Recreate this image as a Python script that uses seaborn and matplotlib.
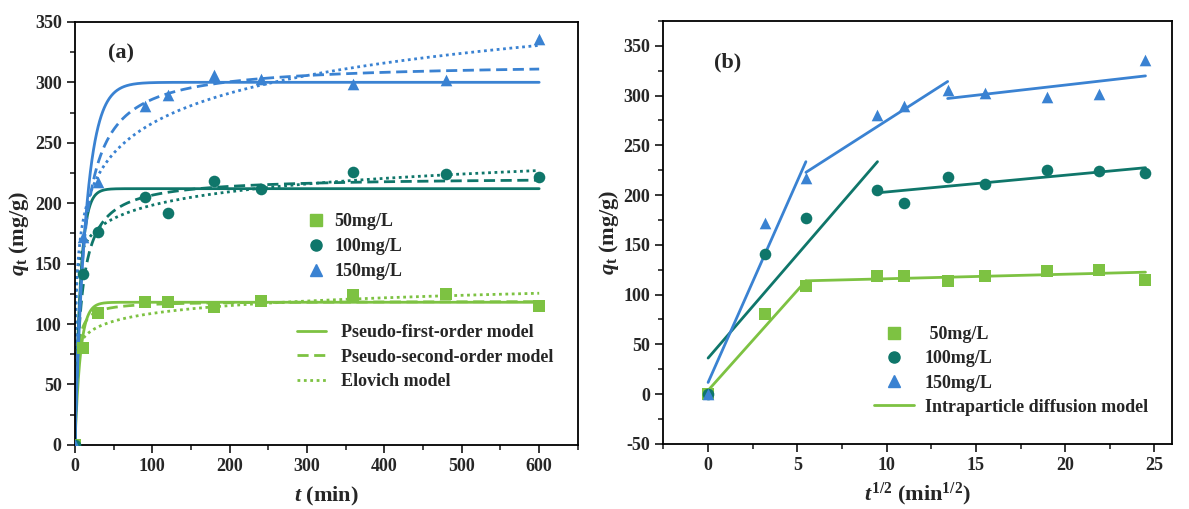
import numpy as np
import pandas as pd
import matplotlib
matplotlib.use("Agg")
import matplotlib.pyplot as plt
from matplotlib.lines import Line2D
from matplotlib.ticker import MultipleLocator
import seaborn as sns

# ---- data ----
t_min = [0, 10, 30, 90, 120, 180, 240, 360, 480, 600]
q_50 = [0, 80.5, 109, 118.5, 118.5, 114, 119, 124, 124.5, 115]
q_100 = [0, 141, 176.5, 205.5, 191.5, 218, 211.5, 225.5, 224.5, 222]
q_150 = [0, 172, 217.5, 280.5, 289.5, 306, 303, 298.5, 301.5, 336]

conc_labels = ["50mg/L", "100mg/L", "150mg/L"]

# fitted kinetic parameters (50, 100, 150 mg/L)
pfo_qe = [118, 212, 300]
pfo_k1 = [0.14, 0.14, 0.07]
pso_qe = [118.95, 221.7, 316.5]
pso_k2 = [0.00366, 0.000618, 0.000296]
elo_alpha = [11160, 38720, 587]
elo_beta = [0.1075, 0.0625, 0.0278]

# intraparticle diffusion segments: (first point idx, last point idx, kid, C)
ipd_50 = [(0, 2, 20.1, 3.7), (2, 9, 0.457, 111.3)]
ipd_100 = [(0, 3, 20.8, 36.2), (3, 9, 1.68, 186.3)]
ipd_150 = [(0, 2, 40.5, 11.7), (2, 5, 11.5, 159.8), (5, 9, 2.05, 269.5)]

colors = ["#7DC242", "#0F766A", "#3A82D2"]
markers = ["s", "o", "^"]

sns.set_theme(style="ticks")
plt.rcParams["font.family"] = ["Liberation Serif", "DejaVu Serif"]
plt.rcParams["font.weight"] = "bold"
plt.rcParams["axes.labelweight"] = "bold"
plt.rcParams["axes.unicode_minus"] = False
plt.rcParams["mathtext.fontset"] = "custom"
plt.rcParams["mathtext.rm"] = "Liberation Serif:bold"
plt.rcParams["mathtext.it"] = "Liberation Serif:italic:bold"
plt.rcParams["mathtext.bf"] = "Liberation Serif:bold"

fig = plt.figure(figsize=(11.89, 5.09), dpi=100)
ax1 = fig.add_axes([0.063, 0.126, 0.423, 0.831])
ax2 = fig.add_axes([0.558, 0.128, 0.428, 0.831])

series = [q_50, q_100, q_150]
t_fine = np.linspace(0, 600, 1201)

# ---- panel (a): kinetic models ----
for i in range(3):
    pfo = pfo_qe[i] * (1 - np.exp(-pfo_k1[i] * t_fine))
    pso = pso_k2[i] * pso_qe[i] ** 2 * t_fine / (1 + pso_k2[i] * pso_qe[i] * t_fine)
    elo = np.log(1 + elo_alpha[i] * elo_beta[i] * t_fine) / elo_beta[i]
    sns.lineplot(x=t_fine, y=pfo, color=colors[i], lw=2, ax=ax1)
    sns.lineplot(x=t_fine, y=pso, color=colors[i], lw=2, linestyle=(0, (4, 2)), ax=ax1)
    sns.lineplot(x=t_fine, y=elo, color=colors[i], lw=2, linestyle=(0, (1, 1.3)), ax=ax1)
    df = pd.DataFrame({"t": t_min, "q": series[i]})
    sns.scatterplot(data=df, x="t", y="q", color=colors[i], marker=markers[i],
                    s=70, edgecolor=colors[i], linewidth=0, ax=ax1, zorder=5)

ax1.set_xlim(0, 650)
ax1.set_ylim(0, 350)
ax1.xaxis.set_major_locator(MultipleLocator(100))
ax1.xaxis.set_minor_locator(MultipleLocator(50))
ax1.yaxis.set_major_locator(MultipleLocator(50))
ax1.yaxis.set_minor_locator(MultipleLocator(25))
ax1.set_xlabel("$t$ (min)", fontsize=16, labelpad=7)
ax1.set_ylabel("$q_{\\mathrm{t}}$ (mg/g)", fontsize=16, labelpad=3)
ax1.text(0.065, 0.95, "(a)", transform=ax1.transAxes, fontsize=16,
         fontweight="bold", va="top")

h_pts = [Line2D([], [], color=colors[i], marker=markers[i], linestyle="none",
                markersize=8) for i in range(3)]
leg1 = ax1.legend(h_pts, conc_labels, loc="upper left",
                  bbox_to_anchor=(0.43, 0.587), frameon=False, fontsize=13,
                  handlelength=1.0, handletextpad=0.5, labelspacing=0.45)
ax1.add_artist(leg1)
h_lines = [Line2D([], [], color=colors[0], lw=2),
           Line2D([], [], color=colors[0], lw=2, linestyle=(0, (4, 2))),
           Line2D([], [], color=colors[0], lw=2, linestyle=(0, (1, 1.3)))]
ax1.legend(h_lines, ["Pseudo-first-order model", "Pseudo-second-order model",
                     "Elovich model"], loc="upper left",
           bbox_to_anchor=(0.41, 0.323), frameon=False, fontsize=13,
           handlelength=1.6, handletextpad=0.8, labelspacing=0.4)

# ---- panel (b): intraparticle diffusion ----
sqrt_t = np.sqrt(t_min)
segs = [ipd_50, ipd_100, ipd_150]
for i in range(3):
    for i0, i1, kid, c in segs[i]:
        xs = np.array([sqrt_t[i0], sqrt_t[i1]])
        sns.lineplot(x=xs, y=kid * xs + c, color=colors[i], lw=2, ax=ax2)
    df = pd.DataFrame({"x": sqrt_t, "q": series[i]})
    sns.scatterplot(data=df, x="x", y="q", color=colors[i], marker=markers[i],
                    s=70, edgecolor=colors[i], linewidth=0, ax=ax2, zorder=5)

ax2.set_xlim(-2.5, 26)
ax2.set_ylim(-50, 375)
ax2.xaxis.set_major_locator(MultipleLocator(5))
ax2.xaxis.set_minor_locator(MultipleLocator(2.5))
ax2.yaxis.set_major_locator(MultipleLocator(50))
ax2.yaxis.set_minor_locator(MultipleLocator(25))
ax2.set_xlabel("$t^{1/2}$ (min$^{1/2}$)", fontsize=16, labelpad=5)
ax2.set_ylabel("$q_{\\mathrm{t}}$ (mg/g)", fontsize=16, labelpad=2)
ax2.text(0.1, 0.925, "(b)", transform=ax2.transAxes, fontsize=16,
         fontweight="bold", va="top")
h_b = h_pts + [Line2D([], [], color=colors[0], lw=2)]
ax2.legend(h_b, [" 50mg/L", "100mg/L", "150mg/L", "Intraparticle diffusion model"],
           loc="upper left", bbox_to_anchor=(0.382, 0.316), frameon=False,
           fontsize=13, handlelength=2.2, handletextpad=0.6, labelspacing=0.39)

for ax in (ax1, ax2):
    for sp in ax.spines.values():
        sp.set_linewidth(1.3)
        sp.set_color("black")
    ax.tick_params(which="major", direction="out", length=6, width=1.3,
                   labelsize=13, top=False, right=False)
    ax.tick_params(which="minor", direction="out", length=3.5, width=1.2,
                   top=False, right=False)
    for lab in ax.get_xticklabels() + ax.get_yticklabels():
        lab.set_fontweight("bold")

fig.savefig("out.png", dpi=100)
